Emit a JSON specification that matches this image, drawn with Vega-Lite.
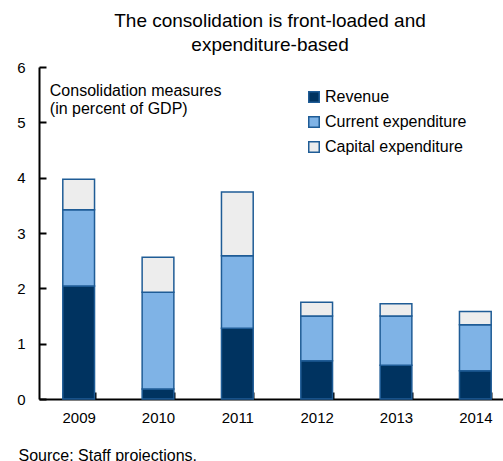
{
  "$schema": "https://vega.github.io/schema/vega-lite/v6.json",
  "autosize": "none",
  "width": 476,
  "height": 332,
  "padding": {"left": 39, "top": 67, "right": 0, "bottom": 62},
  "background": "white",
  "title": {
    "text": ["The consolidation is front-loaded and", "expenditure-based"],
    "font": "Liberation Sans",
    "fontSize": 19,
    "fontWeight": "normal",
    "color": "black",
    "lineHeight": 24,
    "offset": 5,
    "dx": -7
  },
  "config": {
    "view": {"stroke": null},
    "font": "Liberation Sans"
  },
  "datasets": {
    "bars": [
      {"year": "2009", "type": "Revenue", "ord": 1, "value": 2.04},
      {"year": "2009", "type": "Current expenditure", "ord": 2, "value": 1.38},
      {"year": "2009", "type": "Capital expenditure", "ord": 3, "value": 0.55},
      {"year": "2010", "type": "Revenue", "ord": 1, "value": 0.18},
      {"year": "2010", "type": "Current expenditure", "ord": 2, "value": 1.75},
      {"year": "2010", "type": "Capital expenditure", "ord": 3, "value": 0.63},
      {"year": "2011", "type": "Revenue", "ord": 1, "value": 1.28},
      {"year": "2011", "type": "Current expenditure", "ord": 2, "value": 1.31},
      {"year": "2011", "type": "Capital expenditure", "ord": 3, "value": 1.15},
      {"year": "2012", "type": "Revenue", "ord": 1, "value": 0.69},
      {"year": "2012", "type": "Current expenditure", "ord": 2, "value": 0.81},
      {"year": "2012", "type": "Capital expenditure", "ord": 3, "value": 0.25},
      {"year": "2013", "type": "Revenue", "ord": 1, "value": 0.61},
      {"year": "2013", "type": "Current expenditure", "ord": 2, "value": 0.89},
      {"year": "2013", "type": "Capital expenditure", "ord": 3, "value": 0.22},
      {"year": "2014", "type": "Revenue", "ord": 1, "value": 0.51},
      {"year": "2014", "type": "Current expenditure", "ord": 2, "value": 0.83},
      {"year": "2014", "type": "Capital expenditure", "ord": 3, "value": 0.24}
    ],
    "note": [{"label": "Consolidation measures\n(in percent of GDP)"}]
  },
  "layer": [
    {
      "data": {"name": "bars"},
      "mark": {"type": "bar", "stroke": "#1F5C96", "strokeWidth": 1.5},
      "encoding": {
        "x": {
          "field": "year",
          "type": "nominal",
          "scale": {"paddingInner": 0.6, "paddingOuter": 0.3},
          "axis": {
            "orient": "bottom",
            "title": "Source: Staff projections.",
            "titleFont": "Liberation Sans",
            "titleFontSize": 16,
            "titleFontWeight": "normal",
            "titleColor": "black",
            "titleAnchor": "start",
            "titleAlign": "left",
            "titleBaseline": "alphabetic",
            "titleX": -21,
            "titleY": 61,
            "labelAngle": 0,
            "labelFontSize": 15,
            "labelColor": "black",
            "labelPadding": 18,
            "domainColor": "black",
            "domainWidth": 2,
            "ticks": true,
            "tickBand": "extent",
            "tickColor": "black",
            "tickWidth": 2,
            "tickSize": -7
          }
        },
        "y": {
          "field": "value",
          "type": "quantitative",
          "aggregate": "sum",
          "stack": "zero",
          "scale": {"domain": [0, 6], "nice": false},
          "axis": {
            "orient": "left",
            "title": null,
            "values": [0, 1, 2, 3, 4, 5, 6],
            "format": "d",
            "grid": false,
            "labelFontSize": 15,
            "labelColor": "black",
            "labelPadding": 21,
            "domainColor": "black",
            "domainWidth": 2,
            "ticks": true,
            "tickColor": "black",
            "tickWidth": 2,
            "tickSize": -7
          }
        },
        "color": {
          "field": "type",
          "type": "nominal",
          "scale": {
            "domain": ["Revenue", "Current expenditure", "Capital expenditure"],
            "range": ["#003360", "#7FB3E6", "#EDEDED"]
          },
          "legend": {
            "title": null,
            "orient": "none",
            "legendX": 267,
            "legendY": 22,
            "symbolType": "square",
            "symbolSize": 110,
            "symbolStrokeColor": "#1F5C96",
            "symbolStrokeWidth": 1.5,
            "labelFontSize": 16,
            "labelColor": "black",
            "labelOffset": 3,
            "rowPadding": 7
          }
        },
        "order": {"field": "ord", "type": "quantitative"}
      }
    },
    {
      "data": {"name": "note"},
      "mark": {
        "type": "text",
        "align": "left",
        "baseline": "middle",
        "fontSize": 16,
        "lineHeight": 18,
        "lineBreak": "\n",
        "dx": -13,
        "color": "black"
      },
      "encoding": {
        "x": {"datum": "2009", "bandPosition": 0},
        "y": {"datum": 5.56},
        "text": {"field": "label"}
      }
    }
  ]
}
